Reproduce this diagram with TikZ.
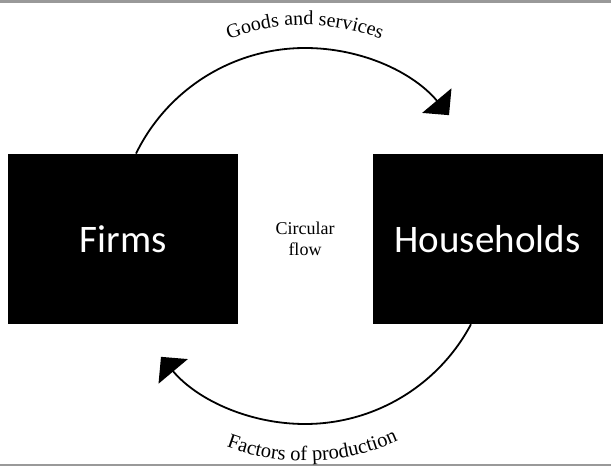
\documentclass[tikz,border=0pt]{standalone}
\usepackage{fontspec}
\setmainfont{Liberation Serif}
\newfontfamily\boxfont{Carlito}
\usetikzlibrary{arrows.meta,decorations.text,calc}
\tikzset{
  agent/.style={fill=black, draw=none, minimum width=230pt, minimum height=170pt,
    inner sep=0pt, text=white, font=\boxfont\fontsize{39}{40}\selectfont},
  flow/.style={line width=1.8pt, -{Triangle[length=19pt,width=38pt]}},
  flowlabel/.style={font=\fontsize{18}{21}\selectfont, align=center},
  frame/.style={draw=black!40, line width=2.5pt}
}
\begin{document}
\begin{tikzpicture}[x=1pt,y=-1pt]
  \useasboundingbox (0,0) rectangle (611,476);
  % frame lines
  \draw[frame] (0,1.5) -- (611,1.5);
  \draw[frame] (0,465) -- (611,465);
  % sectors
  \node[agent] (firms) at (123,239) {Firms};
  \node[agent] (hh) at (487.5,239) {Households};
  \node[flowlabel] (cf) at (305,239) {Circular\\flow};
  % centre of the circular flow and the start points on the boxes
  \coordinate (o) at (305,236);
  \coordinate (gs) at ($(o)+(-154:188)$);
  \coordinate (fp) at ($(o)+(28:188)$);
  % goods and services: firms -> households
  \draw[flow] (gs) arc[start angle=-154, end angle=-40, radius=188];
  % factors of production: households -> firms
  \draw[flow] (fp) arc[start angle=28, end angle=140, radius=188];
  % curved labels
  \path[decorate, decoration={text along path, text align=center,
      text={|\fontsize{20}{20}\selectfont|Goods and services}}]
    ($(o)+(-140:211)$) arc[start angle=-140, end angle=-40, radius=211];
  \path[decorate, decoration={text along path, text align=center,
      text={|\fontsize{20.5}{20.5}\selectfont|Factors of production}}]
    ($(o)+(128:225)$) arc[start angle=128, end angle=48, radius=225];
\end{tikzpicture}
\end{document}
